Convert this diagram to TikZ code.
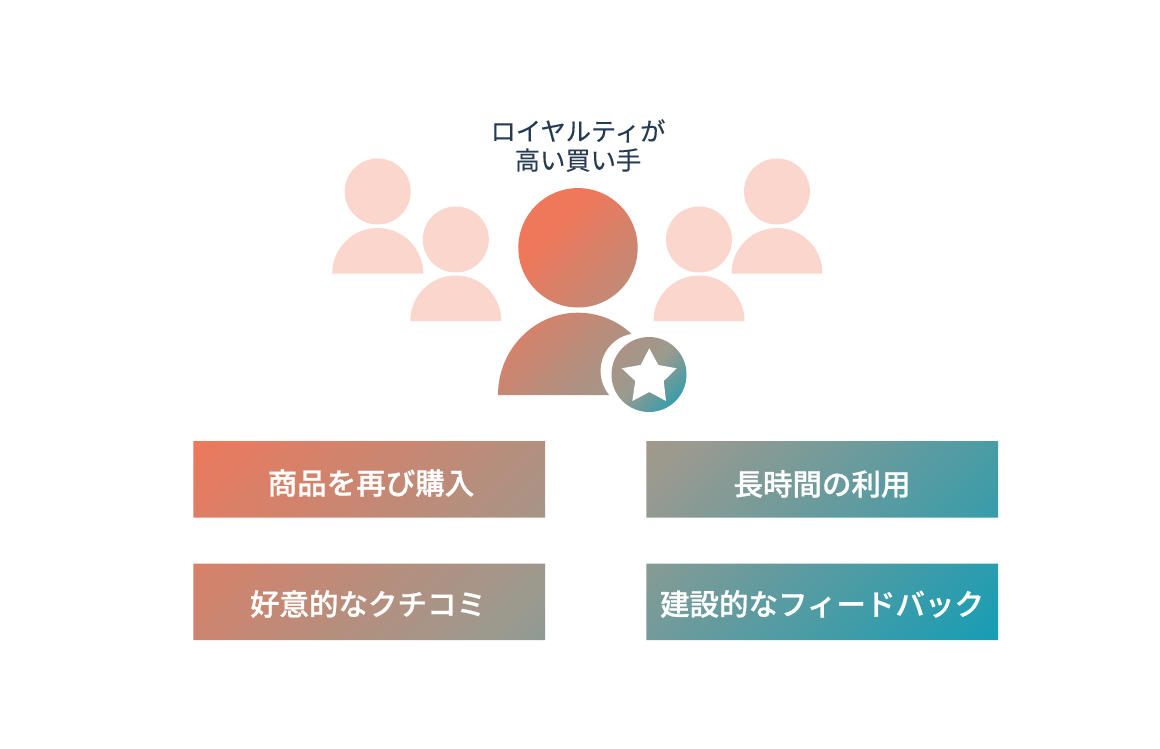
\documentclass[tikz,border=0pt]{standalone}
\usepackage{fontspec}
\setmainfont{Noto Sans CJK JP}
\newfontfamily\boxfont[FakeBold=0.8]{Noto Sans CJK JP Medium}
\newfontfamily\titlefont[FakeBold=0.2]{Noto Sans CJK JP}
\definecolor{pinkfill}{HTML}{FBD6CD}
\definecolor{titlecol}{HTML}{263A52}
\definecolor{gradA}{HTML}{EF775A}
\definecolor{gradM}{HTML}{9A9A8F}
\definecolor{gradB}{HTML}{169DB4}
\pgfdeclarehorizontalshading{grad}{100bp}{color(0bp)=(gradA); color(37.8bp)=(gradA); color(50bp)=(gradM); color(61.79bp)=(gradB); color(100bp)=(gradB)}
\pgfdeclarehorizontalshading{gradperson}{100bp}{color(0bp)=(gradA); color(41bp)=(gradA); color(57.5bp)=(gradM); color(62.6bp)=(gradB); color(100bp)=(gradB)}
\tikzset{
  pinkshape/.style={fill=pinkfill},
  boxtext/.style={text=white,font=\fontsize{29.5}{32}\boxfont,inner sep=0pt,anchor=center},
  titletext/.style={text=titlecol,font=\fontsize{25.3}{29}\titlefont,inner sep=0pt,align=center,anchor=center},
}
\newcommand{\pinkperson}[3]{% cx, head cy, body bottom
  \fill[pinkshape] (#1,#2) circle[radius=33];
  \fill[pinkshape] (#1-45.5,#3) arc[start angle=180,end angle=360,x radius=45.5,y radius=45.5] -- cycle;
}
\begin{document}
\begin{tikzpicture}[x=1pt,y=-1pt]
\useasboundingbox (0,0) rectangle (1160,749);
\fill[white] (0,0) rectangle (1160,749);
\pinkperson{377.7}{191.5}{273.5}
\pinkperson{455.8}{239.5}{321}
\pinkperson{699}{239.5}{321}
\pinkperson{777}{191.5}{273.5}
% main person with a shared gradient
\begin{scope}
  \clip (578,247.8) circle[radius=59.7]
        (498,395) arc[start angle=180,end angle=360,x radius=80,y radius=82.3] -- cycle;
  \shade[shading=gradperson,shading angle=-45] (592-258.75,320.5-258.75) rectangle (592+258.75,320.5+258.75);
\end{scope}
% white disc that cuts the crescent out of the body
\fill[white] (638.2,370.9) circle[radius=37.6];
\begin{scope}
  \clip (649,374.5) circle[radius=37.5];
  \shade[shading=gradperson,shading angle=-45] (592-258.75,320.5-258.75) rectangle (592+258.75,320.5+258.75);
\end{scope}
\fill[white] (649.3,348.3) -- (658.3,365) -- (676.7,368.3) -- (663.7,381) -- (666,401) -- (649.3,392) -- (632.3,401) -- (635.3,381) -- (621.7,368.3) -- (640.7,365) -- cycle;
% boxes with a shared gradient
\begin{scope}
  \clip (193.3,441) rectangle (545,517.5)
        (646.3,441) rectangle (998,517.5)
        (193.3,563.7) rectangle (545,640)
        (646.3,563.7) rectangle (998,640);
  \shade[shading=grad,shading angle=-45] (595.5-753,540.5-753) rectangle (595.5+753,540.5+753);
\end{scope}
\node[titletext] (title) at (578,145.5) {ロイヤルティが\\高い買い手};
\node[boxtext] (b1) at (371,483) {商品を再び購入};
\node[boxtext] (b2) at (822,484) {長時間の利用};
\node[boxtext] (b3) at (368,604) {好意的なクチコミ};
\node[boxtext] (b4) at (822,604) {建設的なフィードバック};
\end{tikzpicture}
\end{document}
